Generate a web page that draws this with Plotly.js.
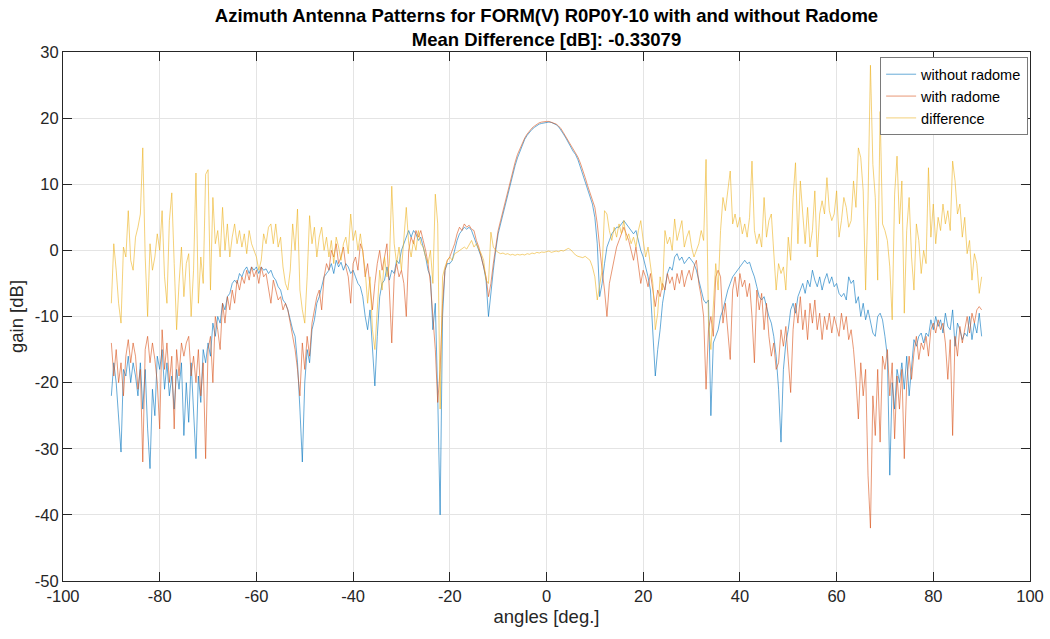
<!DOCTYPE html>
<html>
<head>
<meta charset="utf-8">
<script src="https://cdn.plot.ly/plotly-3.0.1.min.js"></script>
<style>
  html, body { margin: 0; padding: 0; background: #ffffff; }
  #chart { width: 1050px; height: 639px; }
</style>
</head>
<body>
<div id="chart"></div>
<script>
// Azimuth cut sampled every 0.5 degree from -90 to +90 (361 samples per series)
const START_ANGLE = -90;
const ANGLE_STEP = 0.5;

// Gain without radome [dB], rows of 5 degrees
const withoutRadome = [
  -22, -17, -20, -25, -30.5, -18, -19, -16, -20, -17,        // -90
  -19, -22, -17, -24, -18, -27, -33, -21, -25, -16,          // -85
  -18, -15, -21, -17, -22, -19, -24, -18, -21, -17,          // -80
  -28, -20, -26, -17, -24, -31.5, -19, -23, -15, -17,        // -75
  -14, -16, -11, -13, -10, -11, -8, -9, -7, -6.5,            // -70
  -5, -4.5, -5, -3.5, -4, -3, -2.5, -3.5, -2.5, -3,          // -65
  -2.5, -3.5, -2.5, -3, -2.8, -3.5, -3, -4, -4.5, -5.5,      // -60
  -6, -7.5, -8, -9, -10.5, -12, -13, -17, -24, -32,          // -55
  -20, -15, -17, -12, -10.5, -8, -7, -5.5, -4, -3.5,         // -50
  -3, -2, -3.5, -1.5, -2.5, -1.8, -3, -2, -2.5, -3.5,        // -45
  -3, -4, -5, -5.5, -7, -10, -12, -9, -14, -20.5,            // -40
  -13, -7, -5, -4.5, -2.5, -4.5, -3, -3.5, -1.5, -2,         // -35
  0, 1, 2, 3, 2, 3, 2.5, 1.5, 2, 0.5,                        // -30
  -1, -3, -4, -12, -8, -22, -40, -10, -3, -2,                // -25
  -2, -1.5, 0, 1.5, 2.5, 3, 3.5, 3.2, 3.5, 3,                // -20
  2, 1, 0, -1, -2.5, -4.5, -10, -6, -3, 0,                   // -15
  2.5, 4, 5.5, 7, 8.5, 10, 11.5, 12.8, 14, 15,               // -10
  16, 16.8, 17.4, 17.9, 18.3, 18.6, 18.9, 19.1, 19.2, 19.3,  // -5
  19.35, 19.4, 19.35, 19.2, 19, 18.7, 18.2, 17.6, 17, 16.3,  // 0
  15.6, 15, 14.5, 13.7, 12.6, 11.5, 10.2, 9.2, 8, 7,         // 5
  5, 1, -7, -5, -2, 0.5, 1.5, 2.5, 3, 3.5,                   // 10
  3.5, 4, 4.5, 4, 3.5, 3, 2.5, 3, 1.5, 0,                    // 15
  -1, -2.5, -4, -6, -12, -19, -15, -12, -8, -5.5,            // 20
  -3.5, -2.5, -3, -1, -0.5, -1.5, -1, -2, -1.5, -1,          // 25
  -1.5, -2, -3, -4.5, -6, -7.5, -8, -7.5, -25, -14,          // 30
  -13, -12, -10, -9, -7.5, -6, -5, -4, -3.5, -3,             // 35
  -2.5, -2, -1.5, -2, -1.8, -3, -4, -5.5, -7, -7.5,          // 40
  -7, -8.5, -10, -11, -13, -16, -21, -29, -18, -14,          // 45
  -12, -9, -8, -9.5, -7, -6, -5, -6.5, -4.5, -5.5,           // 50
  -3, -4.5, -5.5, -4, -6, -4.5, -3.5, -5, -4, -5.5,          // 55
  -5, -6.5, -7, -6.5, -7.5, -4, -5, -4.5, -8, -7,            // 60
  -10, -8, -10.5, -9, -11, -12.5, -13, -10, -9.5, -10.5,     // 65
  -13, -16, -34, -20, -24, -18, -20, -17, -21, -16,          // 70
  -22, -17, -13.5, -14.5, -13, -12.5, -14, -12.5, -13, -10.5,// 75
  -12, -10, -11.5, -10.5, -12.5, -9.5, -11.5, -12, -9, -14.5,// 80
  -11, -12, -13.5, -12.5, -13, -10, -13.5, -11, -12.5, -9.5, // 85
  -13                                                        // 90
];

// Gain with radome [dB]
const withRadome = [
  -14, -19, -15, -20, -17, -22, -16, -13.5, -17, -14,        // -90
  -16, -21, -18, -32, -15, -13, -17, -14, -16.5, -20,        // -85
  -27, -12, -18, -14, -20, -16, -27, -15, -19, -14,          // -80
  -16, -14, -13, -19, -16, -20, -15, -22, -17, -31.5,        // -75
  -15, -13, -20, -10, -12, -15, -8, -11, -7, -9,             // -70
  -6, -8, -4.5, -6, -4, -5, -3, -4.5, -2.5, -4,              // -65
  -3, -5, -2.5, -4, -3.5, -5.5, -8, -4.5, -6, -7.5,          // -60
  -7, -9, -8, -9, -11, -13, -15, -18, -22, -14,              // -55
  -18, -13, -16, -11, -9, -7, -6, -9, -4, -2,                // -50
  -3, 0, -1, 1, -2, -1, 0.5, -2.5, -4, -8,                   // -45
  -2, -1, -3, 1, 0, -4, -2, -6, -9, -5,                      // -40
  -2, 0, -3, -1, 1, -6, -14, -4, -2, -4,                     // -35
  -3, -5, -10, 0, 2, 1, 3, 2, 3, 1.5,                        // -30
  0, -2, -5, -10, -15, -23, -18, -8, -3, -1.5,               // -25
  -1, 0, 1, 2.5, 3.5, 3, 4, 3.5, 3.8, 3.2,                   // -20
  3, 1.5, 0.5, -1, -2.5, -4, -7, -5, -2, 0.5,                // -15
  3, 4.5, 6, 7.5, 9, 10.5, 12, 13.3, 14.5, 15.4,             // -10
  16.3, 17, 17.6, 18.1, 18.5, 18.8, 19.1, 19.3, 19.4, 19.5,  // -5
  19.5, 19.5, 19.4, 19.3, 19.1, 18.8, 18.4, 17.8, 17.2, 16.6,// 0
  16, 15.4, 14.8, 14.1, 13.2, 12.2, 11, 9.8, 8.8, 7.8,       // 5
  6.5, 4, 0, -3, -6, -10, -5, -3, -1.5, 0.5,                 // 10
  1.5, 2.5, 3.5, 2.5, 1.5, 0, -1.5, 0.5, -2, -5,             // 15
  -3, -4, -5.5, -3.5, -6, -8.5, -6, -7, -5, -6,              // 20
  -3.5, -5, -4, -6, -3.5, -5, -3, -5.5, -4, -3,              // 25
  -4.5, -2.5, -1.5, -5, -7, -10, -21, -12, -10, -13,         // 30
  -4, -3, -4, -11, -8, -13, -16.5, -6, -4, -7,               // 35
  -3.5, -5.5, -4.5, -7, -5, -10, -17, -6, -9, -6.5,          // 40
  -12, -8, -13, -16, -14, -18, -17, -12, -14.5, -11.5,       // 45
  -16, -21.5, -12, -8, -11, -7, -12, -9, -13.5, -8,          // 50
  -11, -7.5, -12, -9.5, -13.5, -10, -12, -9.5, -12.5, -10,   // 55
  -11.5, -13, -9.5, -12, -10, -13.5, -12, -15, -19.5, -25.5, // 60
  -17, -22, -18, -34, -42, -22, -28, -18, -29, -16,          // 65
  -18, -15, -22, -17, -28.5, -19, -24, -18, -31.5, -20,      // 70
  -16, -19.5, -15.5, -13, -16.5, -14, -15, -13, -16, -12,    // 75
  -11, -12.5, -10.5, -12, -11, -14, -19.5, -13.5, -28, -13,  // 80
  -16, -11.5, -14, -12, -10, -12.5, -9.5, -11, -9, -8.5,     // 85
  -9                                                         // 90
];

// Difference between the two patterns [dB]
const difference = [
  -8, 1, -3, -8, -11, 0.5, -1, 6, -1.5, -3,                  // -90
  2, 3.5, 5.5, 15.5, -1, -10, 1, -3, -1, 2.5,                // -85
  0, 6, -4, -8, 4.5, 8.7, -2, -12, -5, 0.5,                  // -80
  -7, -2, -0.5, -10, -3, 11.7, -8, -1, -5, 11.5,             // -75
  12.2, -6, 8, 1, 3, -1, 6.5, 0, 4, -1,                      // -70
  2, 4, 1, 3, 0.5, 2.5, -0.5, 3, 1, 0,                       // -65
  -1, -3, -1.5, 2.5, 1, 3.5, 4, 1, 4, 0.5,                   // -60
  2, -2.5, -5, -6, -3, 4, 0, 6.25, -6, -9,                   // -55
  -11, -4, 5.25, 1, 3.5, -1, 2, 3.5, 0, 2,                   // -50
  -1, 1.5, -2, 2, 0.5, -1.5, 1, 2, -0.5, 5.5,                // -45
  1.5, 3, 0, 2.5, -0.5, -3, -8, -4, -12, -15,                // -40
  -9, -3, -6, -1, -4, -2, 9.7, 1, -2, 0.5,                   // -35
  -3, 2, 6.5, 1, -1, 1.5, 0, 3, 1, 0.5,                      // -30
  -1, -2, 0, -5, 8.5, 4, -24, -4, -2.5, -1.5,                // -25
  -1, -1.5, -0.5, -0.3, 0, 0.3, 0.5, 0.2, 0.8, 1.5,          // -20
  0.5, 1, 0.2, -0.5, -1.5, -4.5, -5, 2.75, 0.5, 0,           // -15
  -0.3, -0.5, -0.4, -0.6, -0.5, -0.7, -0.6, -0.75, -0.6, -0.7, // -10
  -0.6, -0.7, -0.5, -0.6, -0.4, -0.5, -0.3, -0.4, -0.25, -0.3, // -5
  -0.2, -0.1, -0.3, -0.2, -0.1, -0.2, 0, -0.1, 0.1, 0.3,     // 0
  0.1, -0.3, -0.7, -0.9, -1, -1.1, -0.9, -1.2, -1.5, -2.5,   // 5
  -4, -7.5, -5.5, -3, 6, 5.5, 3, 1.5, 3.5, 2,                // 10
  4, 2.5, 4.5, 1.5, 2.5, 1, 2, 0.5, 3, 4.5,                  // 15
  1.5, -1, 0.5, -2.5, -5, -12, -9.5, -4, -6, 3,              // 20
  1, 2, 0, 4.75, 1.5, 3, 4.5, 0.5, 2, 3,                     // 25
  0.5, -1, 0, 1, 3, 1.5, 13.75, -11, -15, -9,                // 30
  -2, -6, 3, 8, 6, 9, 12, 4, 5.5, 3.5,                       // 35
  5, 2.5, 4, 2, 5, 13.5, 3, 1, 2.5, 0.5,                     // 40
  8, 2, 4.5, 5.5, -0.5, -6, -2, -3.5, -2.5, -6,              // 45
  2, -1.5, 8, 13.25, 1, 10.5, 5.5, 1, 6.5, 0.5,              // 50
  3, 9, -1, 5.5, 7.5, 5.5, 11, 6, 4.5, 5.5,                  // 55
  9, 2, 4.5, 8, 6.5, 3.5, 4.5, 10.5, 6.5, 15.5,              // 60
  14, 9, -6, 7.5, 28, 13, 8, -4.5, 21, 4,                    // 65
  3, 1.5, -2.5, -10.5, 8.5, 14.25, 4, 10.5, -9.5, 3,         // 70
  8, -1, -6, 4, 1.5, -3.5, 0, -2, 12.5, 2,                   // 75
  7, 1, 5, 3, 7, 4, 6, 3, 13.5, 10.5,                        // 80
  5.5, 7, 2, 5, -0.5, 1.5, -4.5, -0.5, -2, -6.5,             // 85
  -4                                                         // 90
];

const seriesNames = ['without radome', 'with radome', 'difference'];
const seriesColors = ['#0072BD', '#D95319', '#EDB120'];
const seriesValues = [withoutRadome, withRadome, difference];

const xTickValues = [-100, -80, -60, -40, -20, 0, 20, 40, 60, 80, 100];
const yTickValues = [-50, -40, -30, -20, -10, 0, 10, 20, 30];

const FONT = 'Liberation Sans, Arial, Helvetica, sans-serif';

const traces = seriesValues.map((vals, i) => ({
  type: 'scatter',
  mode: 'lines',
  name: seriesNames[i],
  x0: START_ANGLE,
  dx: ANGLE_STEP,
  y: vals,
  line: { color: seriesColors[i], width: 0.6 },
  hoverinfo: 'skip'
}));

const axisCommon = {
  showline: true,
  linecolor: '#262626',
  linewidth: 1,
  mirror: 'ticks',
  ticks: 'inside',
  ticklen: 9,
  tickwidth: 1,
  tickcolor: '#262626',
  showgrid: true,
  gridcolor: '#e4e4e4',
  gridwidth: 1,
  zeroline: false,
  tickfont: { family: FONT, size: 16.5, color: '#262626' }
};

const layout = {
  width: 1050,
  height: 639,
  paper_bgcolor: '#ffffff',
  plot_bgcolor: '#ffffff',
  margin: { l: 63, r: 20, t: 52, b: 58 },
  showlegend: true,
  title: {
    text: '<b>Azimuth Antenna Patterns for FORM(V) R0P0Y-10 with and without Radome</b><br><b>Mean Difference [dB]: -0.33079</b>',
    font: { family: FONT, size: 18.5, color: '#000000' },
    x: 0.5,
    xref: 'paper',
    xanchor: 'center',
    y: 0.966,
    yref: 'container',
    yanchor: 'top'
  },
  xaxis: Object.assign({}, axisCommon, {
    range: [-100, 100],
    tickvals: xTickValues,
    ticktext: xTickValues.map(String),
    title: { text: 'angles [deg.]', font: { family: FONT, size: 18.5, color: '#262626' }, standoff: 6 }
  }),
  yaxis: Object.assign({}, axisCommon, {
    range: [-50, 30],
    tickvals: yTickValues,
    ticktext: yTickValues.map(String),
    title: { text: 'gain [dB]', font: { family: FONT, size: 18.5, color: '#262626' }, standoff: 6 }
  }),
  legend: {
    x: 0.845,
    y: 0.99,
    xanchor: 'left',
    yanchor: 'top',
    bgcolor: '#ffffff',
    bordercolor: '#7a7a7a',
    borderwidth: 1,
    itemwidth: 30,
    tracegroupgap: 0,
    font: { family: FONT, size: 14.5, color: '#000000' }
  }
};

Plotly.newPlot('chart', traces, layout, { staticPlot: true, displayModeBar: false });
</script>
</body>
</html>
